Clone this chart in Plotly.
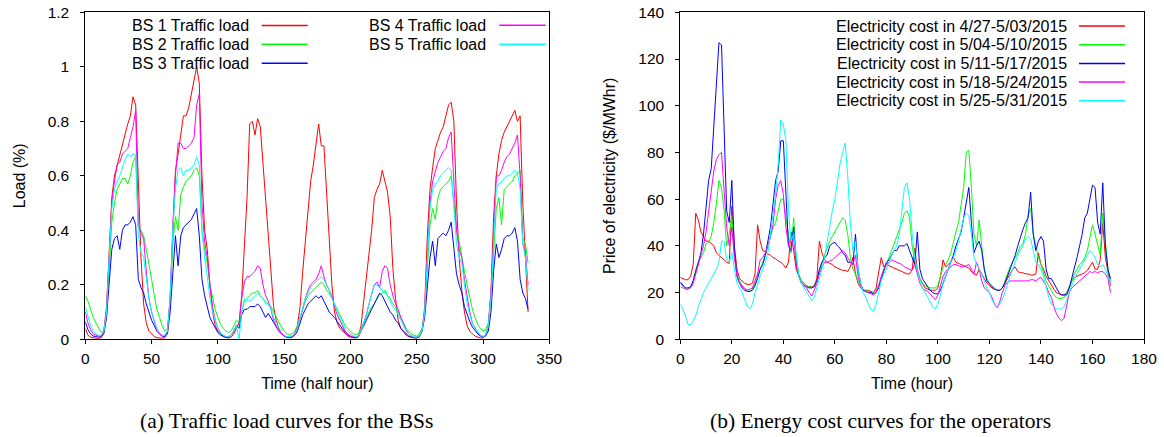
import plotly.graph_objects as go

W, H = 1164, 437

# ---------------- Data: traffic load (half-hour samples, every 2nd slot) ----------------
T_HALF = list(range(0, 336, 2))

BS1_LOAD = [
    0.04, 0.015, 0.008, 0.005, 0.004, 0.004, 0.006, 0.03, 0.12, 0.32, 0.52, 0.6, 0.64, 0.67, 0.71, 0.75, 0.79, 0.82, 0.89, 0.86, 0.55, 0.3, 0.13, 0.06,
    0.03, 0.02, 0.01, 0.006, 0.005, 0.004, 0.006, 0.03, 0.15, 0.4, 0.62, 0.68, 0.76, 0.82, 0.82, 0.85, 0.9, 0.95, 1.0, 0.94, 0.6, 0.4, 0.33, 0.2,
    0.1, 0.05, 0.03, 0.02, 0.01, 0.006, 0.005, 0.008, 0.02, 0.04, 0.06, 0.16, 0.32, 0.52, 0.79, 0.8, 0.75, 0.81, 0.78, 0.65, 0.53, 0.37, 0.25, 0.12,
    0.07, 0.04, 0.02, 0.012, 0.008, 0.006, 0.008, 0.02, 0.05, 0.12, 0.25, 0.37, 0.47, 0.58, 0.64, 0.72, 0.79, 0.71, 0.71, 0.54, 0.38, 0.2, 0.1, 0.06,
    0.04, 0.03, 0.02, 0.012, 0.008, 0.006, 0.005, 0.01, 0.05, 0.14, 0.23, 0.3, 0.4, 0.52, 0.55, 0.57, 0.62, 0.58, 0.54, 0.45, 0.26, 0.15, 0.07, 0.04,
    0.025, 0.015, 0.01, 0.007, 0.005, 0.005, 0.01, 0.03, 0.12, 0.38, 0.55, 0.63, 0.7, 0.73, 0.76, 0.78, 0.82, 0.86, 0.87, 0.8, 0.5, 0.3, 0.18, 0.1,
    0.05, 0.03, 0.02, 0.012, 0.008, 0.005, 0.005, 0.015, 0.05, 0.18, 0.45, 0.6, 0.68, 0.73, 0.76, 0.78, 0.8, 0.82, 0.84, 0.8, 0.82, 0.5, 0.3, 0.1,
]
BS2_LOAD = [
    0.16, 0.14, 0.11, 0.08, 0.06, 0.04, 0.025, 0.03, 0.08, 0.25, 0.43, 0.5, 0.55, 0.57, 0.59, 0.59, 0.57, 0.6, 0.65, 0.67, 0.42, 0.4, 0.38, 0.33,
    0.28, 0.22, 0.16, 0.11, 0.08, 0.05, 0.03, 0.04, 0.13, 0.35, 0.45, 0.4, 0.53, 0.56, 0.58, 0.59, 0.6, 0.62, 0.63, 0.6, 0.4, 0.33, 0.28, 0.2,
    0.15, 0.11, 0.08, 0.055, 0.04, 0.03, 0.025, 0.03, 0.05, 0.07, 0.06, 0.1, 0.14, 0.15, 0.16, 0.17, 0.17, 0.18, 0.16, 0.15, 0.14, 0.13, 0.12, 0.1,
    0.08, 0.06, 0.045, 0.03, 0.02, 0.018, 0.02, 0.03, 0.05, 0.08, 0.11, 0.14, 0.16, 0.17, 0.18, 0.19, 0.2, 0.21, 0.2, 0.18, 0.17, 0.15, 0.13, 0.11,
    0.09, 0.07, 0.05, 0.04, 0.03, 0.02, 0.018, 0.02, 0.04, 0.06, 0.08, 0.1, 0.12, 0.13, 0.15, 0.16, 0.17, 0.18, 0.16, 0.15, 0.13, 0.12, 0.1, 0.08,
    0.06, 0.04, 0.03, 0.02, 0.015, 0.012, 0.02, 0.04, 0.1, 0.28, 0.42, 0.48, 0.44, 0.52, 0.55, 0.56, 0.57, 0.58, 0.6, 0.5, 0.4, 0.36, 0.3, 0.25,
    0.2, 0.15, 0.11, 0.08, 0.055, 0.04, 0.03, 0.035, 0.06, 0.15, 0.32, 0.48, 0.52, 0.42, 0.55, 0.56, 0.57, 0.58, 0.6, 0.61, 0.62, 0.37, 0.35, 0.28,
]
BS3_LOAD = [
    0.065, 0.035, 0.02, 0.012, 0.01, 0.008, 0.01, 0.02, 0.08, 0.2, 0.33, 0.37, 0.38, 0.33, 0.4, 0.42, 0.42, 0.43, 0.45, 0.42, 0.22, 0.19, 0.17, 0.13,
    0.1, 0.07, 0.05, 0.03, 0.02, 0.01, 0.01, 0.02, 0.1, 0.25, 0.38, 0.27, 0.38, 0.41, 0.42, 0.43, 0.44, 0.46, 0.48, 0.38, 0.22, 0.16, 0.12, 0.08,
    0.06, 0.04, 0.025, 0.015, 0.01, 0.008, 0.008, 0.015, 0.03, 0.05, 0.04, 0.09, 0.11, 0.11, 0.12, 0.12, 0.12, 0.13, 0.12, 0.1, 0.08, 0.095, 0.08, 0.06,
    0.045, 0.03, 0.02, 0.012, 0.008, 0.006, 0.008, 0.015, 0.03, 0.06, 0.09, 0.11, 0.13, 0.14, 0.15, 0.16, 0.15, 0.16, 0.14, 0.12, 0.1, 0.09, 0.08, 0.065,
    0.05, 0.035, 0.025, 0.015, 0.01, 0.008, 0.006, 0.01, 0.03, 0.05, 0.07, 0.09, 0.11, 0.13, 0.15, 0.17, 0.16, 0.14, 0.12, 0.1, 0.09, 0.07, 0.06, 0.04,
    0.03, 0.02, 0.012, 0.008, 0.006, 0.005, 0.01, 0.03, 0.08, 0.2, 0.3, 0.36, 0.27, 0.37, 0.38, 0.39, 0.38, 0.4, 0.43, 0.32, 0.24, 0.2, 0.17, 0.12,
    0.09, 0.065, 0.045, 0.03, 0.02, 0.012, 0.008, 0.012, 0.03, 0.1, 0.25, 0.35, 0.3, 0.33, 0.37, 0.38, 0.38, 0.39, 0.41, 0.36, 0.22, 0.17, 0.15, 0.11,
]
BS4_LOAD = [
    0.1, 0.06, 0.035, 0.02, 0.015, 0.012, 0.012, 0.03, 0.1, 0.3, 0.5, 0.58, 0.64, 0.65, 0.68, 0.69, 0.7, 0.74, 0.78, 0.84, 0.42, 0.39, 0.37, 0.25,
    0.15, 0.1, 0.06, 0.03, 0.02, 0.012, 0.012, 0.03, 0.15, 0.42, 0.6, 0.72, 0.72, 0.7, 0.7, 0.71, 0.72, 0.74, 0.86, 0.9, 0.5, 0.36, 0.3, 0.2,
    0.12, 0.07, 0.04, 0.025, 0.015, 0.01, 0.01, 0.015, 0.03, 0.05, 0.06, 0.15, 0.21, 0.23, 0.23, 0.24, 0.25, 0.27, 0.26, 0.2, 0.16, 0.14, 0.11, 0.07,
    0.05, 0.03, 0.02, 0.012, 0.01, 0.008, 0.01, 0.02, 0.04, 0.08, 0.12, 0.15, 0.18, 0.2, 0.21, 0.22, 0.24, 0.27, 0.23, 0.2, 0.18, 0.16, 0.12, 0.09,
    0.07, 0.05, 0.03, 0.02, 0.012, 0.01, 0.008, 0.01, 0.03, 0.06, 0.09, 0.13, 0.17, 0.2, 0.21, 0.19, 0.25, 0.27, 0.26, 0.2, 0.16, 0.13, 0.11, 0.08,
    0.06, 0.035, 0.02, 0.012, 0.008, 0.008, 0.012, 0.03, 0.1, 0.32, 0.5, 0.58, 0.62, 0.65, 0.67, 0.69, 0.7, 0.74, 0.76, 0.6, 0.4, 0.33, 0.3, 0.22,
    0.15, 0.1, 0.06, 0.04, 0.025, 0.015, 0.01, 0.015, 0.05, 0.16, 0.38, 0.6, 0.6, 0.62, 0.65, 0.67, 0.68, 0.7, 0.72, 0.75, 0.6, 0.35, 0.32, 0.2,
]
BS5_LOAD = [
    0.12, 0.08, 0.05, 0.03, 0.02, 0.015, 0.015, 0.03, 0.1, 0.3, 0.48, 0.55, 0.58, 0.6, 0.63, 0.66, 0.68, 0.67, 0.68, 0.68, 0.38, 0.32, 0.3, 0.22,
    0.15, 0.1, 0.07, 0.04, 0.025, 0.015, 0.015, 0.03, 0.15, 0.4, 0.55, 0.62, 0.63, 0.6, 0.62, 0.62, 0.63, 0.64, 0.67, 0.64, 0.4, 0.3, 0.23, 0.15,
    0.1, 0.07, 0.04, 0.025, 0.015, 0.01, 0.01, 0.015, 0.03, 0.05, 0.0, 0.1, 0.15, 0.14, 0.14, 0.15, 0.16, 0.17, 0.16, 0.15, 0.13, 0.13, 0.11, 0.08,
    0.06, 0.04, 0.025, 0.015, 0.01, 0.01, 0.012, 0.02, 0.04, 0.08, 0.12, 0.15, 0.17, 0.19, 0.2, 0.21, 0.22, 0.23, 0.22, 0.2, 0.18, 0.15, 0.13, 0.1,
    0.08, 0.06, 0.04, 0.03, 0.02, 0.012, 0.01, 0.012, 0.03, 0.06, 0.09, 0.13, 0.17, 0.2, 0.2, 0.19, 0.18, 0.17, 0.16, 0.14, 0.12, 0.11, 0.09, 0.07,
    0.05, 0.03, 0.02, 0.012, 0.008, 0.008, 0.012, 0.03, 0.1, 0.3, 0.48, 0.55, 0.57, 0.58, 0.6, 0.61, 0.62, 0.63, 0.62, 0.5, 0.35, 0.3, 0.28, 0.2,
    0.13, 0.09, 0.06, 0.04, 0.025, 0.015, 0.01, 0.015, 0.05, 0.15, 0.35, 0.55, 0.57, 0.58, 0.59, 0.6, 0.6, 0.61, 0.62, 0.61, 0.55, 0.35, 0.3, 0.18,
]

LOAD_NAMES = ["BS 1 Traffic load", "BS 2 Traffic load", "BS 3 Traffic load",
              "BS 4 Traffic load", "BS 5 Traffic load"]

# ---------------- Data: electricity price (hourly) ----------------
T_HOUR = list(range(0, 168))

COST_0427 = [
    26.5, 26, 25.5, 25.5, 27, 32, 54, 51, 46, 44, 42, 42, 41, 40, 37, 36, 35, 34, 33, 32.5, 57, 40, 30, 26,
    25, 24, 23.5, 23.5, 24, 28, 49, 42, 38, 37.5, 36.5, 36, 35, 34.5, 33.5, 33, 32, 30.5, 33, 46, 38, 30, 27, 25,
    24, 23, 22.5, 22.5, 23, 26, 42, 37, 34, 33, 32.5, 32, 31, 30.5, 30, 29.5, 29.5, 29, 31, 35, 28, 24, 22, 21,
    21, 21, 20.5, 20, 22, 28, 35, 31, 32, 31.5, 31, 30.5, 30, 29.5, 29, 28.5, 28, 28, 30, 39, 30, 26, 24, 22,
    21.5, 21, 21, 21, 22, 27, 34, 31, 32, 33, 35, 33, 32.5, 32, 31.5, 31, 30.5, 29, 28, 27.5, 30, 28, 26, 24,
    23, 22, 21.5, 21, 21, 22, 24, 26, 28, 30, 31, 29, 28.5, 28.5, 28, 28, 27.5, 27.5, 28, 37, 32, 30, 27, 25,
    23, 21.5, 20, 19.5, 19, 19, 20, 22.5, 25, 26.5, 27, 27.5, 28, 28.5, 29.5, 31, 33, 30, 30, 34, 50, 35, 28, 23,
]
COST_0504 = [
    22.5, 22, 21.5, 21.5, 22.5, 25, 30, 33, 35, 37, 41, 41.5, 44, 50, 58, 68, 65, 55, 40, 45, 53, 36, 28, 25,
    23, 22, 21, 20.5, 21.5, 24, 27, 30, 33, 36, 40, 44, 48, 50, 55, 60, 60, 52, 45, 37, 52, 35, 28, 25,
    24, 23, 22.5, 22, 23, 25, 29, 33, 36, 39, 42, 44, 46, 48, 50, 52, 51, 45, 35, 30, 28, 25, 23, 21,
    21, 20.5, 20, 20, 21, 23, 26, 29, 32, 35, 38, 41, 44, 47, 50, 54, 55, 52, 40, 33, 29, 26, 24, 23,
    22.5, 22, 22, 22, 23, 27, 31, 32, 34, 37, 42, 46, 50, 57, 65, 80, 81, 65, 45, 40, 51, 40, 30, 26,
    24, 23, 22, 21, 21, 22, 25, 28, 31, 33, 35, 37, 40, 41, 45, 53, 56, 45, 40, 35, 32, 28, 25, 23,
    21, 19, 18, 17.5, 17.5, 18, 20, 22, 25, 28, 30, 32, 33, 35, 38, 43, 49, 45, 40, 36, 54, 40, 30, 25,
]
COST_0511 = [
    24.5, 23, 22, 22, 22.5, 25, 29, 33, 37, 45, 58, 68, 73, 90, 110, 127, 126, 88, 55, 50, 68, 38, 27, 24,
    22, 21, 20.5, 20.5, 21, 23, 26, 30, 32, 36, 42, 48, 58, 68, 72, 85, 85, 60, 40, 38, 48, 32, 27, 24,
    23, 22.5, 22, 22, 22.5, 25, 30, 33, 35, 36, 40, 41, 41.5, 40, 39, 37, 36, 33, 33, 32, 45, 30, 24, 21,
    20.5, 20, 20, 19.5, 20, 22, 26, 30, 33, 34, 36, 38, 38, 40, 40, 40, 41, 38, 35, 32, 46, 30, 26, 24,
    22.5, 21, 20, 19.5, 19.5, 21, 24, 27, 30, 33, 36, 40, 43, 46, 52, 58, 65, 50, 37, 40, 42, 38, 30, 25,
    23.5, 22.5, 21.5, 21, 21, 22, 24, 27, 30, 33, 36, 40, 44, 47, 50, 52, 63, 45, 38, 42, 44, 42, 30, 26,
    26, 24, 22, 20, 19, 19, 19, 22, 26, 30, 35, 40, 45, 52, 54, 60, 66, 65, 50, 45, 67, 40, 30, 26,
]
COST_0518 = [
    24, 22.5, 21.5, 21.5, 22, 24, 28, 33, 36, 40, 46, 55, 62, 72, 77, 79, 80, 65, 48, 40, 48, 35, 27, 24,
    22.5, 21.5, 21, 21.5, 22, 25, 28, 34, 35, 37, 40, 44, 49, 60, 66, 68, 62, 48, 40, 38, 44, 32, 27, 24,
    23, 22, 20, 18.5, 21, 24, 28, 31, 33, 33, 33.5, 34, 35, 36, 37, 38, 37, 35, 33, 32, 36, 27, 23, 21,
    20.5, 20, 19.5, 19, 20, 23, 27, 30, 32, 33, 34, 33.5, 33, 32.5, 32, 31, 30.5, 30, 29.5, 32, 28, 24, 22, 21,
    20.5, 19.5, 18, 17, 19, 23, 27, 29, 30, 31, 32, 32, 31.5, 31, 31, 31.5, 32, 30, 28, 33, 30, 25, 22, 21,
    20, 18, 15, 13.5, 16, 20, 23, 24.5, 25, 25, 25, 25, 25, 25, 25, 25, 25.5, 25.5, 25, 26, 26.5, 25, 23, 20,
    18, 14, 11, 9, 8, 9, 14, 20, 22, 23, 24, 25, 26, 27, 28, 29, 28.5, 29, 28.5, 29, 29, 28, 26, 20,
]
COST_0525 = [
    15, 13, 10, 6.5, 6, 8, 10, 14, 17, 20, 22, 24, 26, 28, 30, 33, 42, 42, 34, 33, 37, 30, 24, 22,
    20, 17, 14, 13, 15, 20, 24, 27, 30, 33, 37, 45, 52, 62, 75, 94, 92, 85, 55, 42, 45, 35, 27, 24,
    22, 20, 18, 16.5, 18, 22, 25, 30, 35, 42, 50, 55, 60, 68, 75, 80, 84, 70, 50, 38, 42, 30, 24, 20,
    18, 15, 13, 12, 15, 20, 25, 28, 30, 33, 36, 38, 40, 45, 55, 65, 67, 60, 45, 35, 30, 25, 22, 20,
    18, 16, 14, 13, 15, 19, 24, 27, 30, 33, 35, 38, 42, 47, 52, 54, 53, 45, 35, 32, 30, 28, 25, 22,
    20, 17, 15, 14, 15, 17, 20, 24, 27, 30, 33, 36, 38, 40, 43, 44, 43, 38, 33, 32, 30, 27, 22, 18,
    15, 14, 13, 13, 13, 14, 17, 20, 23, 26, 28, 30, 32, 34, 36, 38, 37, 35, 32, 31, 32, 30, 27, 24,
]
COST_NAMES = ["Electricity cost in 4/27-5/03/2015", "Electricity cost in 5/04-5/10/2015",
              "Electricity cost in 5/11-5/17/2015", "Electricity cost in 5/18-5/24/2015",
              "Electricity cost in 5/25-5/31/2015"]

COLORS = ["#ff0000", "#00ff00", "#0000ff", "#ff00ff", "#00ffff"]

SANS = "Liberation Sans, Arial, Helvetica, sans-serif"
SERIF = "Liberation Serif, Times New Roman, serif"


def fx(p):
    """pixel x -> paper fraction"""
    return p / W


def fy(p):
    """pixel y -> paper fraction"""
    return 1 - p / H


fig = go.Figure()

load_series = [BS1_LOAD, BS2_LOAD, BS3_LOAD, BS4_LOAD, BS5_LOAD]
for name, vals, col in zip(LOAD_NAMES, load_series, COLORS):
    fig.add_trace(go.Scatter(x=T_HALF, y=vals, mode="lines", name=name,
                             line=dict(color=col, width=1), xaxis="x", yaxis="y",
                             showlegend=False))

cost_series = [COST_0427, COST_0504, COST_0511, COST_0518, COST_0525]
for name, vals, col in zip(COST_NAMES, cost_series, COLORS):
    fig.add_trace(go.Scatter(x=T_HOUR, y=vals, mode="lines", name=name,
                             line=dict(color=col, width=1), xaxis="x2", yaxis="y2",
                             showlegend=False))

common = dict(showline=True, linecolor="black", linewidth=1, mirror=True,
              ticks="outside", ticklen=4, tickwidth=1, tickcolor="black",
              showgrid=False, zeroline=False, ticklabeloverflow="allow",
              tickfont=dict(family=SANS, size=15.5, color="black"))

ydom = [fy(339.3), fy(12.3)]
title_font = dict(family=SANS, size=16, color="black")

fig.update_layout(
    width=W, height=H,
    margin=dict(l=0, r=0, t=0, b=0, autoexpand=False),
    paper_bgcolor="white", plot_bgcolor="white",
    xaxis=dict(domain=[fx(85.3), fx(549.3)], anchor="y", range=[0, 350], dtick=50,
               title=dict(text="Time (half hour)", font=title_font, standoff=11),
               ticklabelstandoff=1, **common),
    yaxis=dict(domain=ydom, anchor="x", range=[0, 1.2], dtick=0.2,
               title=dict(text="Load (%)", font=title_font, standoff=18),
               ticklabelstandoff=8, **common),
    xaxis2=dict(domain=[fx(680.3), fx(1144)], anchor="y2", range=[0, 180], dtick=20,
                title=dict(text="Time (hour)", font=title_font, standoff=11),
                ticklabelstandoff=1, **common),
    yaxis2=dict(domain=ydom, anchor="x2", range=[0, 140], dtick=20,
                title=dict(text="Price of electricity ($/MWhr)", font=title_font, standoff=18),
                ticklabelstandoff=8, **common),
)

# ---------------- Legends (gnuplot style: text then sample line) ----------------
annotations = []
shapes = []

left_legend = [  # (text right px, line start px, line end px, row y px)
    (251.0, 261.7, 307.7, 25.5),
    (251.0, 261.7, 307.7, 44.3),
    (251.0, 261.7, 307.7, 63.3),
    (488.3, 499.3, 545.7, 25.3),
    (488.3, 499.3, 545.7, 44.3),
]
for (tx, l0, l1, ry), name, col in zip(left_legend, LOAD_NAMES, COLORS):
    annotations.append(dict(x=fx(tx), y=fy(ry), xref="paper", yref="paper", text=name,
                            showarrow=False, xanchor="right", yanchor="middle",
                            font=dict(family=SANS, size=16, color="black")))
    shapes.append(dict(type="line", xref="paper", yref="paper", x0=fx(l0), x1=fx(l1),
                       y0=fy(ry), y1=fy(ry), line=dict(color=col, width=1.5)))

right_rows = [26.0, 44.7, 63.4, 82.1, 100.8]
for ry, name, col in zip(right_rows, COST_NAMES, COLORS):
    annotations.append(dict(x=fx(1069), y=fy(ry), xref="paper", yref="paper", text=name,
                            showarrow=False, xanchor="right", yanchor="middle",
                            font=dict(family=SANS, size=16, color="black")))
    shapes.append(dict(type="line", xref="paper", yref="paper", x0=fx(1079), x1=fx(1125),
                       y0=fy(ry), y1=fy(ry), line=dict(color=col, width=1.5)))

# ---------------- Captions ----------------
annotations.append(dict(x=fx(286), y=fy(421), xref="paper", yref="paper",
                        text="(a) Traffic load curves for the BSs", showarrow=False,
                        xanchor="center", yanchor="middle",
                        font=dict(family=SERIF, size=21.5, color="black")))
annotations.append(dict(x=fx(880), y=fy(421), xref="paper", yref="paper",
                        text="(b) Energy cost curves for the operators", showarrow=False,
                        xanchor="center", yanchor="middle",
                        font=dict(family=SERIF, size=21.5, color="black")))

fig.update_layout(annotations=annotations, shapes=shapes, hovermode=False)

# Remove the browser's default 8px body margin so the figure fills the window exactly.
fig.write_html("out.html", config={"displayModeBar": False},
               post_script="document.body.style.margin='0px';")
